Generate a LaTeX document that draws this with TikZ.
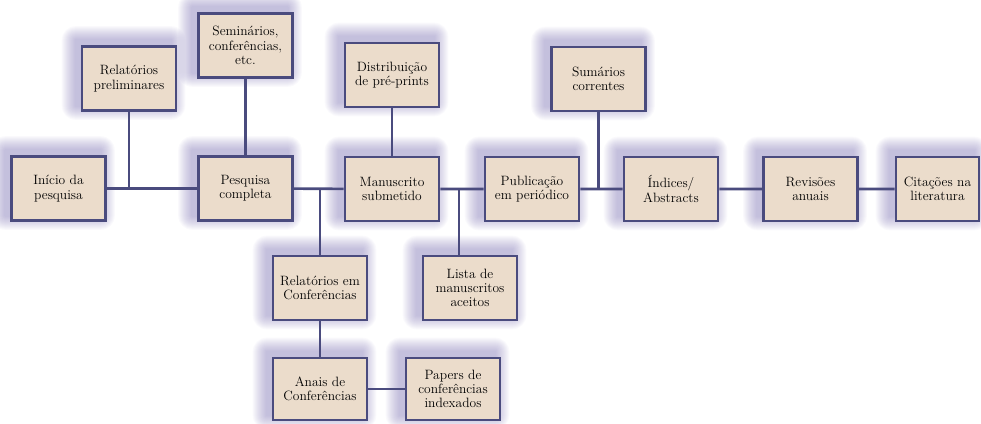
\documentclass[tikz,border=0pt]{standalone}
\usepackage{tikz}
\usetikzlibrary{calc,backgrounds}
\usepackage{xcolor}
\definecolor{FluxoAzul}{HTML}{4A4B7E}
\definecolor{FluxoBege}{HTML}{EBDCCB}
\definecolor{FluxoSombra}{HTML}{6B5FA8}

\tikzset{
  etapa/.style={draw=FluxoAzul,fill=FluxoBege,line width=2.6pt,minimum width=94pt,minimum height=64pt,
    inner sep=1pt,align=center,font=\fontsize{13.5}{14.3}\selectfont},
  liga/.style={draw=FluxoAzul,line width=2.6pt}
}

\begin{document}
\begin{tikzpicture}[x=1pt,y=-1pt]
        \useasboundingbox (0,0) rectangle (981,423);
        \node[etapa] (inicio) at (58.5,188.5) {Início da\\pesquisa};
        \node[etapa] (relprel) at (129,78.5) {Relatórios\\preliminares};
        \node[etapa] (semin) at (245.5,45.5) {Seminários,\\conferências,\\etc.};
        \node[etapa] (pesq) at (245.5,188.5) {Pesquisa\\completa};
        \node[etapa] (distr) at (392,75) {Distribuição\\de pré-prints};
        \node[etapa] (manus) at (392,189) {Manuscrito\\submetido};
        \node[etapa] (publ) at (532,189) {Publicação\\em periódico};
        \node[etapa] (sumar) at (598.5,79) {Sumários\\correntes};
        \node[etapa] (indic) at (671,189) {Índices/\\Abstracts};
        \node[etapa] (revis) at (810.5,189) {Revisões\\anuais};
        \node[etapa,minimum width=83pt] (citac) at (937.5,189) {Citações na\\literatura};
        \node[etapa] (relconf) at (320,288) {Relatórios em\\Conferências};
        \node[etapa] (lista) at (470,288) {Lista de\\manuscritos\\aceitos};
        \node[etapa,minimum height=62pt] (anais) at (320,389) {Anais de\\Conferências};
        \node[etapa,minimum height=62pt] (papers) at (453,389) {Papers de\\conferências\\indexados};
        % sombras
        \begin{pgfonlayer}{background}
          \foreach \n in {inicio,relprel,semin,pesq,distr,manus,publ,sumar,indic,revis,citac,relconf,lista,anais,papers}
            \foreach \r in {1,2,...,14}
              \fill[FluxoSombra,opacity=0.035,rounded corners=\r pt]
                ($(\n.north west)+(-\r-5,-\r-5)$) rectangle ($(\n.south east)+(\r-6,\r-6)$);
        \end{pgfonlayer}
        % ligacoes
        \coordinate (jl) at ($(manus.east)!0.43!(publ.west)$);
        \draw[liga] (inicio)--(pesq)--(manus)--(publ)--(indic)--(revis)--(citac);
        \draw[liga] (relprel)--(relprel |- inicio);
        \draw[liga] (semin)--(pesq);
        \draw[liga] (distr)--(manus);
        \draw[liga] (sumar)--(sumar |- publ);
        \draw[liga] (relconf.north)--(relconf |- pesq);
        \draw[liga] (jl)--(jl |- lista.north);
        \draw[liga] (relconf)--(anais)--(papers);
      \end{tikzpicture}
\end{document}
